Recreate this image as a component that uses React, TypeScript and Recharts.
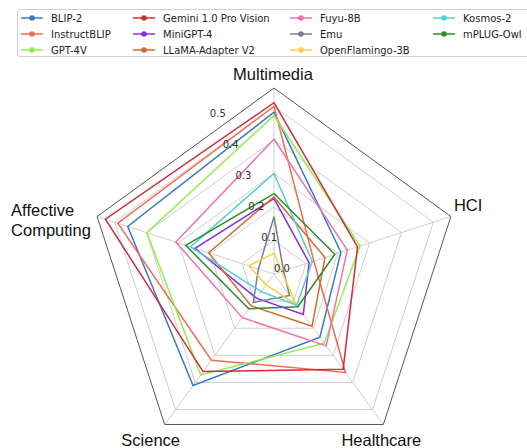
import React from 'react';
import {
  RadarChart,
  Radar,
  PolarGrid,
  PolarAngleAxis,
  PolarRadiusAxis,
  Legend,
} from 'recharts';

const categories = ['Multimedia', 'HCI', 'Healthcare', 'Science', 'Affective Computing'];
const radiusTicks = [0, 0.1, 0.2, 0.3, 0.4, 0.5];

// scores per category, same order as `categories`
const blip2 = [0.483, 0.21, 0.233, 0.411, 0.459];
const instructBlip = [0.5, 0.125, 0.363, 0.318, 0.49];
const gpt4v = [0.473, 0.27, 0.255, 0.372, 0.399];
const gemini = [0.511, 0.262, 0.351, 0.36, 0.529];
const miniGpt4 = [0.225, 0.11, 0.149, 0.089, 0.248];
const llamaAdapter = [0.23, 0.16, 0.193, 0.117, 0.205];
const fuyu = [0.402, 0.23, 0.265, 0.161, 0.308];
const emu = [0.171, 0.03, 0.079, 0.105, 0.049];
const openFlamingo = [0.062, 0.024, 0.114, 0.04, 0.079];
const kosmos2 = [0.3, 0.12, 0.115, 0.065, 0.262];
const mplugOwl = [0.24, 0.191, 0.121, 0.128, 0.277];

const models = [
  { key: 'BLIP-2', values: blip2, color: '#3a78c9' },
  { key: 'InstructBLIP', values: instructBlip, color: '#f26b50' },
  { key: 'GPT-4V', values: gpt4v, color: '#8ff04a' },
  { key: 'Gemini 1.0 Pro Vision', values: gemini, color: '#d42a3a' },
  { key: 'MiniGPT-4', values: miniGpt4, color: '#8a2be2' },
  { key: 'LLaMA-Adapter V2', values: llamaAdapter, color: '#cd6b30' },
  { key: 'Fuyu-8B', values: fuyu, color: '#ef72b0' },
  { key: 'Emu', values: emu, color: '#708090' },
  { key: 'OpenFlamingo-3B', values: openFlamingo, color: '#f8d23f' },
  { key: 'Kosmos-2', values: kosmos2, color: '#4fd0d0' },
  { key: 'mPLUG-Owl', values: mplugOwl, color: '#2e8b2e' },
];

const chartData = categories.map((cat, i) => {
  const row: any = { category: cat };
  models.forEach((m) => {
    row[m.key] = m.values[i];
  });
  return row;
});

const CX = 274;
const CY = 274;
const R = 186;

const labelOffsets: Record<string, { dx: number; dy: number; anchor: string }> = {
  Multimedia: { dx: -1, dy: -8, anchor: 'middle' },
  HCI: { dx: 3, dy: -6, anchor: 'start' },
  Healthcare: { dx: -2, dy: 21.5, anchor: 'middle' },
  Science: { dx: -14, dy: 21.5, anchor: 'middle' },
  'Affective Computing': { dx: -86, dy: -1, anchor: 'start' },
};

const AngleTick = ({ payload }: any) => {
  const rad = (payload.coordinate * Math.PI) / 180;
  const vx = CX + R * Math.cos(rad);
  const vy = CY - R * Math.sin(rad);
  const off = labelOffsets[payload.value];
  const lines = payload.value === 'Affective Computing' ? ['Affective', 'Computing'] : [payload.value];
  return (
    <text
      x={vx + off.dx}
      y={vy + off.dy}
      textAnchor={off.anchor as any}
      fontSize={16.5}
      fontFamily="'Liberation Sans', Arial, sans-serif"
      fill="#111"
    >
      {lines.map((l, i) => (
        <tspan key={l} x={vx + off.dx} dy={i === 0 ? 0 : 20}>
          {l}
        </tspan>
      ))}
    </text>
  );
};

const RadiusTick = ({ x, y, payload }: any) => (
  <text
    x={x}
    y={y - 2.5}
    textAnchor="start"
    fontSize={10}
    fontFamily="'DejaVu Sans', sans-serif"
    fill="#333"
  >
    {payload.value.toFixed(1)}
  </text>
);

const LegendBox = () => (
  <div
    style={{
      border: '1px solid #d0d0d0',
      borderRadius: 3,
      background: '#fff',
      width: 520,
      height: 48,
      boxSizing: 'border-box',
      paddingLeft: 3,
      display: 'grid',
      gridTemplateColumns: '112px 157px 143px 100px',
      gridTemplateRows: 'repeat(3, 16px)',
      gridAutoFlow: 'column',
      fontFamily: "'DejaVu Sans', sans-serif",
      fontSize: 10,
      color: '#222',
    }}
  >
    {models.map((m) => (
      <div key={m.key} style={{ display: 'flex', alignItems: 'center', height: 16 }}>
        <svg width={22} height={10} style={{ marginRight: 8 }}>
          <line x1={0} y1={5} x2={22} y2={5} stroke={m.color} strokeWidth={1.5} />
          <circle cx={11} cy={5} r={2.8} fill={m.color} />
        </svg>
        <span>{m.key}</span>
      </div>
    ))}
  </div>
);

export default function App() {
  return (
    <div style={{ position: 'absolute', left: 0, top: 0 }}>
      <RadarChart
        width={527}
        height={448}
        data={chartData}
        cx={CX}
        cy={CY}
        outerRadius={R}
        margin={{ top: 0, right: 0, bottom: 0, left: 0 }}
      >
        <PolarGrid gridType="polygon" stroke="#cfcfcf" />
        <PolarAngleAxis
          dataKey="category"
          axisLineType="polygon"
          axisLine={{ stroke: '#555', strokeWidth: 1 }}
          tickLine={false}
          tick={<AngleTick />}
        />
        <PolarRadiusAxis
          type="number"
          domain={[0, 0.555]}
          allowDecimals
          allowDataOverflow
          tickCount={6}
          ticks={radiusTicks as any}
          angle={112.5}
          axisLine={false}
          tickLine={false}
          tick={<RadiusTick />}
        />
        {models.map((m) => (
          <Radar
            key={m.key}
            name={m.key}
            dataKey={m.key}
            stroke={m.color}
            strokeWidth={1.5}
            fill="none"
            fillOpacity={0}
            dot={{ r: 3, fill: m.color, stroke: 'none' }}
            isAnimationActive={false}
          />
        ))}
        <Legend
          content={<LegendBox />}
          wrapperStyle={{ position: 'absolute', left: 17, top: 9, width: 520 }}
        />
      </RadarChart>
    </div>
  );
}
